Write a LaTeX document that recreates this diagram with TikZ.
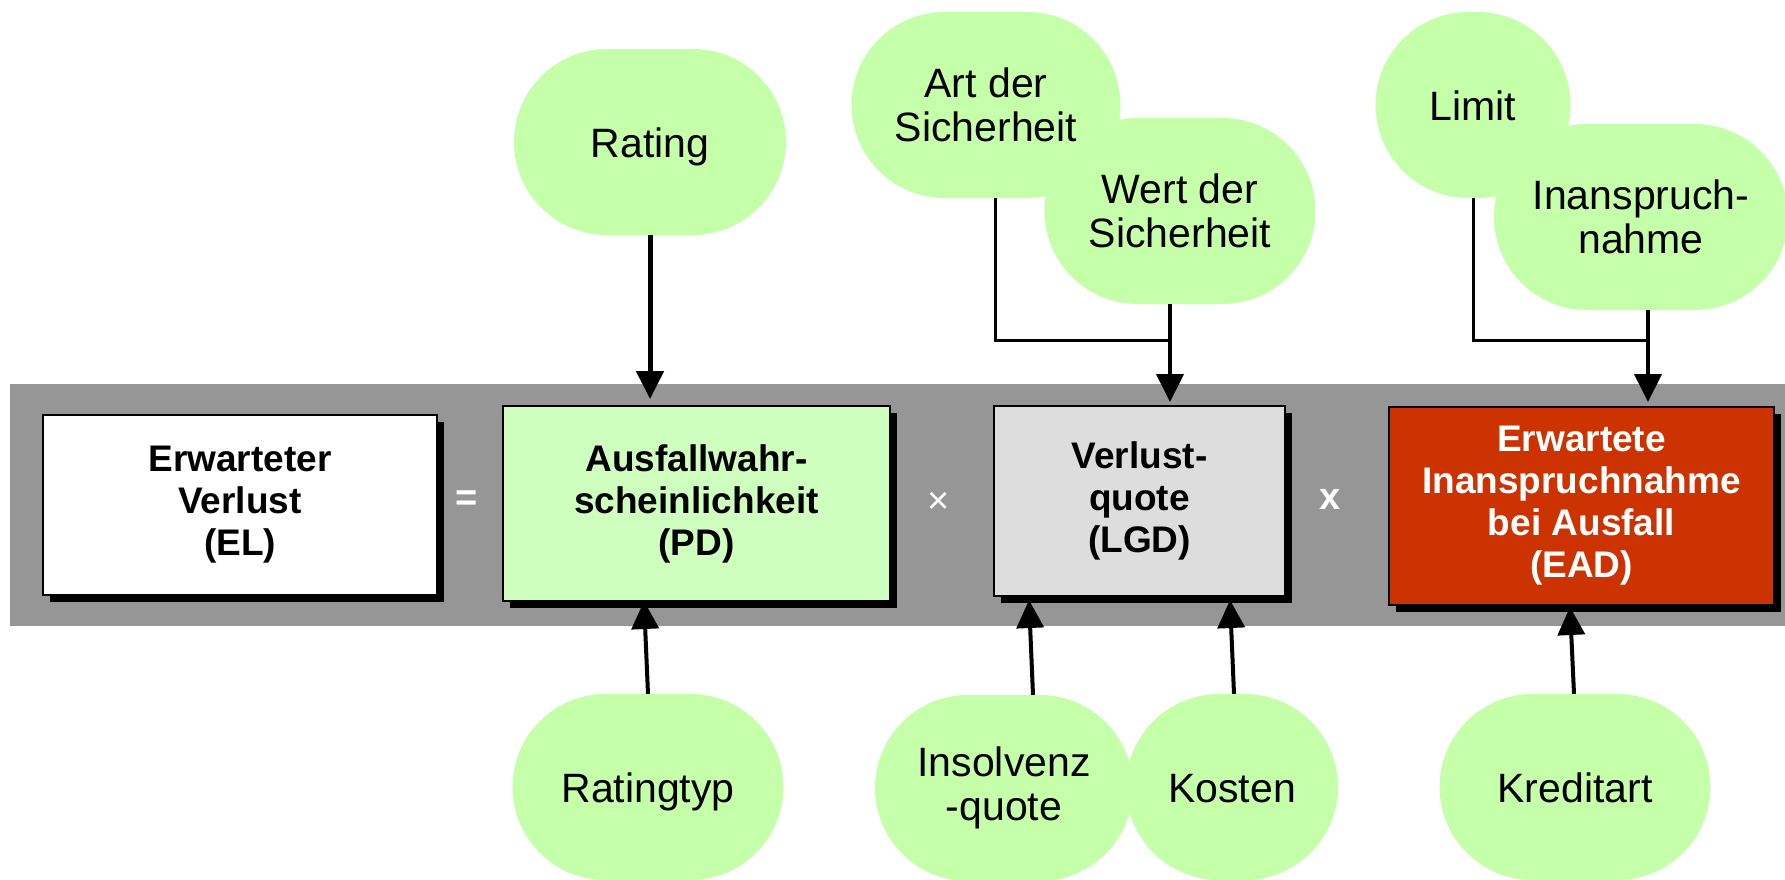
\documentclass[tikz,border=0pt]{standalone}
\usepackage{fontspec}
\setmainfont{Liberation Sans}
\usetikzlibrary{arrows.meta,shadows}

\definecolor{bandgray}{RGB}{150,150,150}
\definecolor{pdgreen}{RGB}{206,255,190}
\definecolor{bubblegreen}{RGB}{198,255,170}
\definecolor{lgdgray}{RGB}{221,221,221}
\definecolor{eadred}{RGB}{204,51,0}

\tikzset{
  factorbox/.style={draw=black, line width=1.5pt, rectangle, align=center,
    font=\fontsize{37}{42}\selectfont\bfseries,
    drop shadow={shadow xshift=7pt, shadow yshift=-7pt, fill=black, opacity=1}},
  bubble/.style={rectangle, rounded corners=93pt, fill=bubblegreen, draw=none,
    minimum height=186pt, inner sep=0pt, align=center,
    font=\fontsize{41}{44}\selectfont},
  oneline/.style={text height=30pt, text depth=0pt},
  opsign/.style={text=white, font=\fontsize{38}{42}\selectfont\bfseries},
  link/.style={line width=4pt, draw=black},
  feed/.style={link, -{Triangle[length=28pt,width=27pt]}},
}

\begin{document}
\begin{tikzpicture}[x=1pt,y=-1pt]
\useasboundingbox (0,0) rectangle (1785,879);

% grey band carrying the formula
\fill[bandgray] (10,384) rectangle (1785,626);

% factors of the expected loss
\node[factorbox, fill=white, minimum width=394pt, minimum height=180pt] (el) at (240,505)
  {Erwarteter\\Verlust\\(EL)};
\node[factorbox, fill=pdgreen, minimum width=387pt, minimum height=195pt] (pd) at (696.5,503.5)
  {Ausfallwahr-\\scheinlichkeit\\(PD)};
\node[factorbox, fill=lgdgray, minimum width=291pt, minimum height=190pt] (lgd) at (1139.5,501)
  {Verlust-\\quote\\(LGD)};
\node[factorbox, fill=eadred, text=white, minimum width=385pt, minimum height=198pt] (ead) at (1581.5,506)
  {Erwartete\\Inanspruchnahme\\bei Ausfall\\(EAD)};

% operators
\node[opsign] (eq) at (467,501) {=};
\node[opsign, font=\fontsize{38}{42}\selectfont] (times) at (939,503) {×};
\node[opsign] (x) at (1330,499) {x};

% drivers above the band
\node[bubble, oneline, minimum width=272pt] (rating) at (650,142) {Rating};
\node[bubble, minimum width=269pt] (art) at (986,105) {Art der\\Sicherheit};
\node[bubble, minimum width=271pt] (wert) at (1180,211) {Wert der\\Sicherheit};
\node[bubble, oneline, minimum width=195pt] (limit) at (1473,105) {Limit};
\node[bubble, minimum width=294pt] (inan) at (1641,217) {Inanspruch-\\nahme};

% drivers below the band
\node[bubble, oneline, minimum width=271pt] (ratingtyp) at (648,787) {Ratingtyp};
\node[bubble, minimum width=258pt] (insolvenz) at (1004,788) {Insolvenz\\-quote};
\node[bubble, oneline, minimum width=212pt] (kosten) at (1232,787) {Kosten};
\node[bubble, oneline, minimum width=271pt] (kreditart) at (1575,787) {Kreditart};

% junctions and arrow ends
\coordinate (lgdjoin) at (1170,340);
\coordinate (eadjoin) at (1648,340);
\coordinate (pdtop) at (650,399);
\coordinate (lgdtop) at (1170,402);
\coordinate (eadtop) at (1648,402);
\coordinate (pdbot) at (644,601);
\coordinate (lgdbotA) at (1029,600);
\coordinate (lgdbotB) at (1230,600);
\coordinate (eadbot) at (1570,607);

% connectors from above
\draw[feed, line width=5pt] (rating.south) -- (pdtop);
\draw[link, line width=3pt] ([xshift=9pt]art.south) |- (lgdjoin);
\draw[feed, line width=4pt] (wert.south -| lgdjoin) -- (lgdtop);
\draw[link, line width=3pt] (limit.south) |- (eadjoin);
\draw[feed, line width=4pt] (inan.south -| eadjoin) -- (eadtop);

% connectors from below
\draw[feed] (ratingtyp.north) -- (pdbot);
\draw[feed] ([xshift=29pt]insolvenz.north) -- (lgdbotA);
\draw[feed] ([xshift=2pt]kosten.north) -- (lgdbotB);
\draw[feed] ([xshift=-1pt]kreditart.north) -- (eadbot);
\end{tikzpicture}
\end{document}
